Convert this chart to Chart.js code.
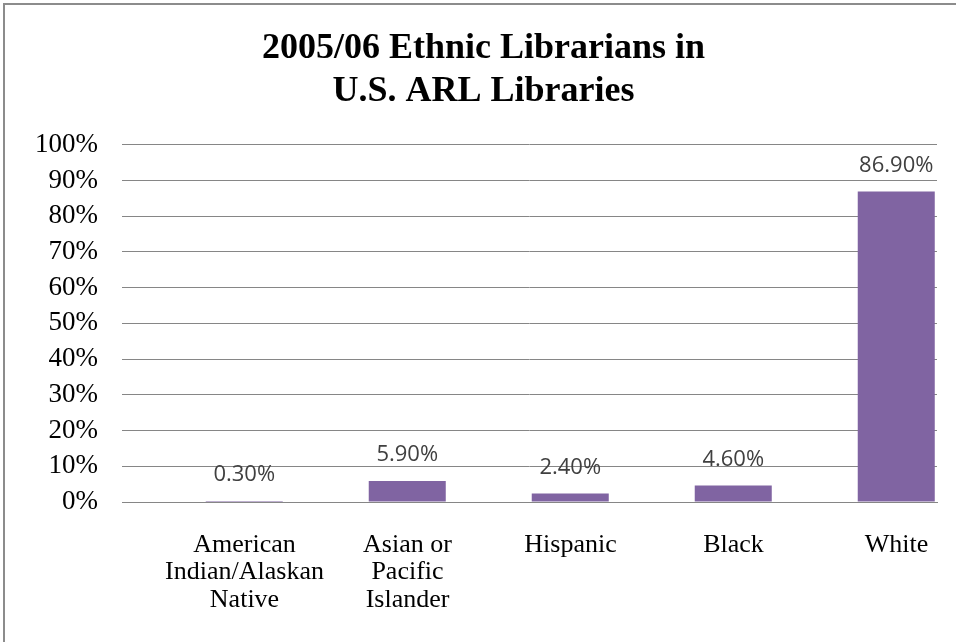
<!DOCTYPE html>
<html>
<head>
<meta charset="utf-8">
<title>2005/06 Ethnic Librarians in U.S. ARL Libraries</title>
<script src="https://cdn.jsdelivr.net/npm/chart.js@4"></script>
<style>
  html, body { margin: 0; padding: 0; background: #fff; overflow: hidden; }
  #wrap { position: relative; width: 956px; height: 642px; }
  #frame {
    position: absolute; left: 3px; top: 3px; width: 980px; height: 680px;
    border-top: 2px solid #8c8c8c; border-left: 2px solid #8c8c8c;
    pointer-events: none;
  }
  canvas { position: absolute; left: 0; top: 0; }
</style>
</head>
<body>
<div id="wrap">
  <canvas id="ethnicChart" width="956" height="642"></canvas>
  <div id="frame"></div>
</div>
<script>
const kategori = [
  ["American", "Indian/Alaskan", "Native"],
  ["Asian or", "Pacific", "Islander"],
  "Hispanic",
  "Black",
  "White"
];
const persen = [0.3, 5.9, 2.4, 4.6, 86.9];
// empty first series, keeps the bars in the right half of each group
const kosong = [null, null, null, null, null];
const yMin = 0;
const yMax = 100;
const yStep = 10;

const serif = "'Liberation Serif', 'Times New Roman', serif";
const ungu = "#8064A2";
const garis = "#868686";

// value printed above each visible bar
const labelNilai = {
  id: "labelNilai",
  afterDatasetsDraw(chart) {
    const ctx = chart.ctx;
    const meta = chart.getDatasetMeta(1);
    ctx.save();
    ctx.font = "22px 'Open Sans', sans-serif";
    ctx.fillStyle = "#404040";
    ctx.textAlign = "center";
    ctx.textBaseline = "middle";
    meta.data.forEach((bar, i) => {
      ctx.fillText(persen[i].toFixed(2) + "%", bar.x, bar.y - 26);
    });
    ctx.restore();
  }
};

let chart;

function render() {
  const ctx = document.getElementById("ethnicChart").getContext("2d");
  if (chart) chart.destroy();
  chart = new Chart(ctx, {
    type: "bar",
    data: {
      labels: kategori,
      datasets: [
        { label: "", data: kosong, backgroundColor: ungu },
        { label: "Librarians", data: persen, backgroundColor: ungu }
      ]
    },
    options: {
      responsive: false,
      animation: false,
      layout: { padding: { top: 7, right: 19, bottom: 0, left: 30 } },
      datasets: {
        bar: { categoryPercentage: 1.0, barPercentage: 0.945 }
      },
      plugins: {
        legend: { display: false },
        tooltip: { enabled: false },
        title: {
          display: true,
          text: ["2005/06 Ethnic Librarians in", "U.S. ARL Libraries"],
          color: "#000",
          font: { family: serif, size: 36, weight: "bold", lineHeight: 1.19 },
          padding: { top: 20, bottom: 32 }
        }
      },
      scales: {
        x: {
          grid: { display: false, drawTicks: false },
          border: { display: true, color: garis, width: 1 },
          ticks: {
            color: "#000",
            padding: 29,
            labelOffset: 41,
            maxRotation: 0,
            autoSkip: false,
            font: { family: serif, size: 26, lineHeight: 1.06 }
          },
          afterFit(scale) { scale.height = 140; }
        },
        y: {
          min: yMin,
          max: yMax,
          grid: { color: garis, lineWidth: 1, drawTicks: false },
          border: { display: false },
          ticks: {
            stepSize: yStep,
            autoSkip: false,
            color: "#000",
            padding: 24,
            font: { family: serif, size: 27, lineHeight: 1 },
            callback: v => v + "%"
          },
          afterFit(scale) { scale.width = 92; }
        }
      }
    },
    plugins: [labelNilai]
  });
}

window.addEventListener("DOMContentLoaded", () => {
  render();
});
</script>
</body>
</html>
